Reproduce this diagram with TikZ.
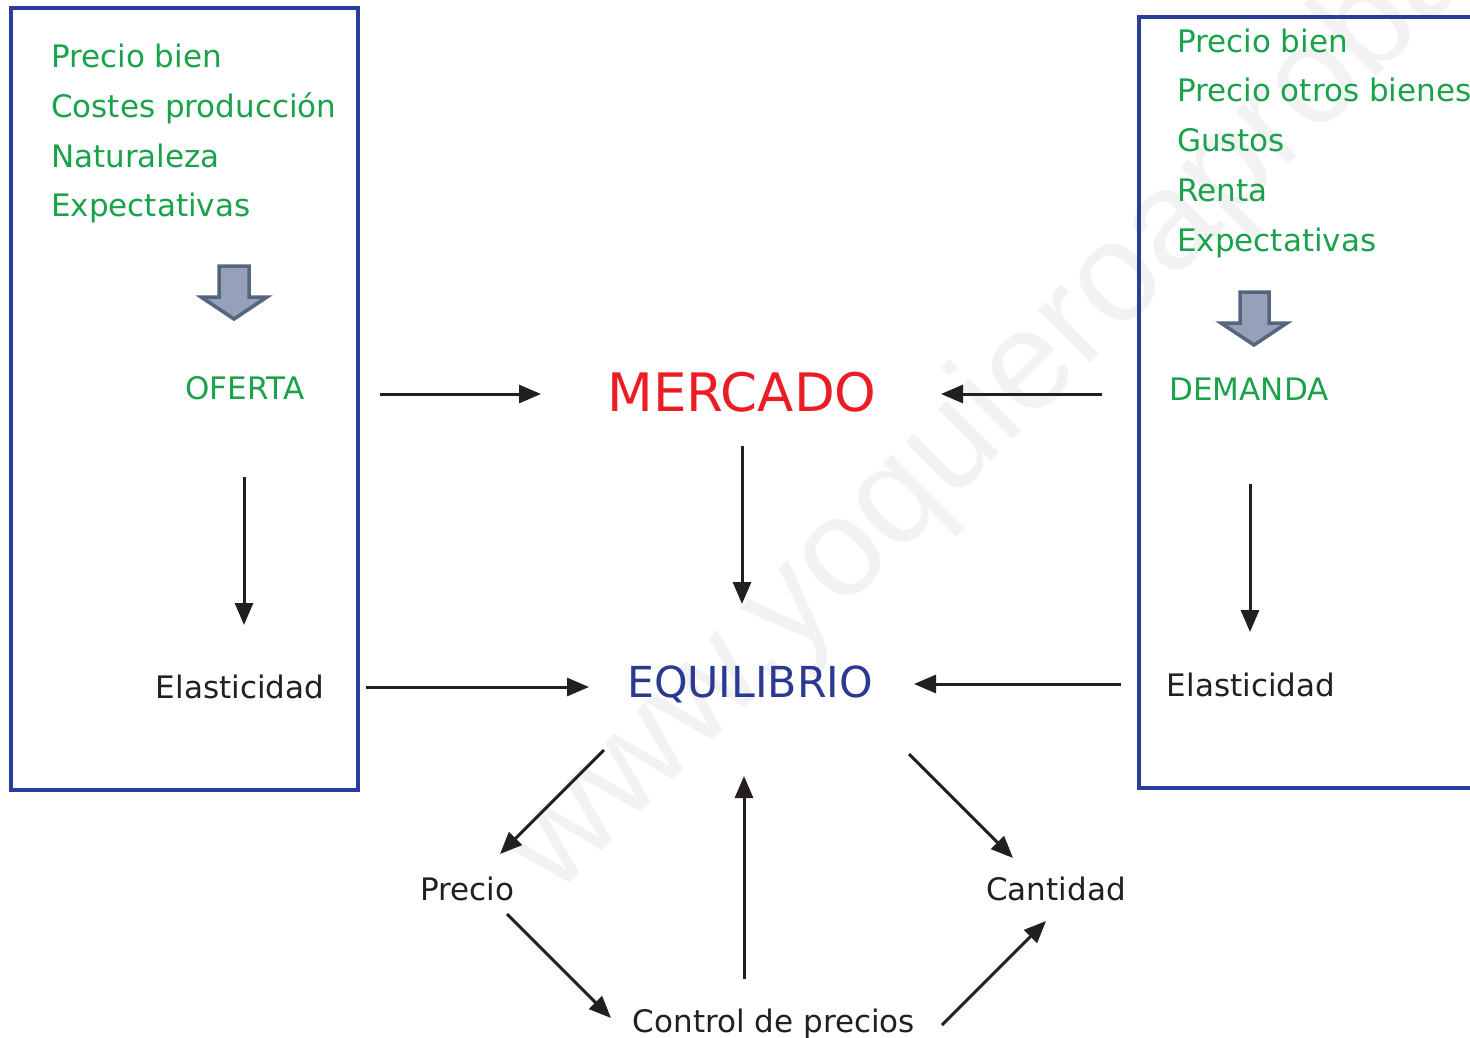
\documentclass[tikz,border=0pt]{standalone}
\usepackage{fontspec}
\setmainfont{DejaVu Sans}
\newfontfamily\wmfont{Liberation Sans}
\usetikzlibrary{arrows.meta}
\definecolor{boxblue}{RGB}{40,62,152}
\definecolor{txtgreen}{RGB}{26,162,74}
\definecolor{mred}{RGB}{236,28,36}
\definecolor{eblue}{RGB}{43,57,146}
\definecolor{ink}{RGB}{35,31,32}
\definecolor{hfill}{RGB}{150,161,185}
\definecolor{hdraw}{RGB}{86,101,126}
\tikzset{
  txt/.style={inner sep=0pt, font=\fontsize{31}{36}\selectfont, text=ink},
  gtxt/.style={txt, text=txtgreen, anchor=base west},
  conn/.style={draw=ink, line width=3pt, -{Triangle[length=22pt,width=18pt]}},
  frame/.style={draw=boxblue, line width=4pt},
  hollow/.style={fill=hfill, draw=hdraw, line width=3.5pt, line join=miter}
}
\begin{document}
\begin{tikzpicture}[x=1pt,y=-1pt]
\useasboundingbox (0,0) rectangle (1470,1037);
% watermark
\node[inner sep=0pt, anchor=base west, rotate=45, text=black!5, font=\wmfont\fontsize{140}{140}\selectfont] (wm) at (555,898) {www.yoquieroaprobar.es};
% frames
\draw[frame] (11,8) rectangle (358,790);
\draw[frame] (1472,17) -- (1139,17) -- (1139,788) -- (1472,788);
% left list
\node[gtxt] (l1) at (51,67) {Precio bien};
\node[gtxt] (l2) at (51,117) {Costes producción};
\node[gtxt] (l3) at (51,167) {Naturaleza};
\node[gtxt] (l4) at (51,216) {Expectativas};
% right list
\node[gtxt] (r1) at (1177,52) {Precio bien};
\node[gtxt] (r2) at (1177,101) {Precio otros bienes};
\node[gtxt] (r3) at (1177,151) {Gustos};
\node[gtxt] (r4) at (1177,201) {Renta};
\node[gtxt] (r5) at (1177,251) {Expectativas};
% hollow arrows
\draw[hollow] (219,266) -- (249,266) -- (249,297) -- (267,297) -- (234,319) -- (201,297) -- (219,297) -- cycle;
\draw[hollow] (1240,292) -- (1269,292) -- (1269,323) -- (1287,323) -- (1254,345) -- (1221,323) -- (1240,323) -- cycle;
% main nodes
\node[txt, text=txtgreen, anchor=base] (oferta) at (245,399) {OFERTA};
\node[txt, text=txtgreen, anchor=base] (demanda) at (1249,400) {DEMANDA};
\node[txt, text=mred, anchor=base, font=\fontsize{53}{60}\selectfont] (mercado) at (742,411) {MERCADO};
\node[txt, text=eblue, anchor=base, font=\fontsize{42.7}{50}\selectfont] (equil) at (750,697) {EQUILIBRIO};
\node[txt, anchor=base] (elasl) at (240,698) {Elasticidad};
\node[txt, anchor=base] (elasr) at (1251,696) {Elasticidad};
\node[txt, anchor=base] (precio) at (467,900) {Precio};
\node[txt, anchor=base] (cantidad) at (1056,900) {Cantidad};
\node[txt, anchor=base] (control) at (774,1032) {Control de precios};
% connector end points
\coordinate (a1s) at (380,394); \coordinate (a1e) at (541,394);
\coordinate (a2s) at (1102,394); \coordinate (a2e) at (941,394);
\coordinate (a3s) at (742,446); \coordinate (a3e) at (742,604);
\coordinate (a4s) at (244,477); \coordinate (a4e) at (244,625);
\coordinate (a5s) at (1250,484); \coordinate (a5e) at (1250,632);
\coordinate (a6s) at (366,687); \coordinate (a6e) at (589,687);
\coordinate (a7s) at (1121,684); \coordinate (a7e) at (914,684);
\coordinate (a8s) at (604,750); \coordinate (a8e) at (500,854);
\coordinate (a9s) at (909,754); \coordinate (a9e) at (1013,858);
\coordinate (a10s) at (507,914); \coordinate (a10e) at (611,1018);
\coordinate (a11s) at (942,1025); \coordinate (a11e) at (1046,921);
\coordinate (a12s) at (744,979); \coordinate (a12e) at (744,776);
\draw[conn] (a1s) -- (a1e);
\draw[conn] (a2s) -- (a2e);
\draw[conn] (a3s) -- (a3e);
\draw[conn] (a4s) -- (a4e);
\draw[conn] (a5s) -- (a5e);
\draw[conn] (a6s) -- (a6e);
\draw[conn] (a7s) -- (a7e);
\draw[conn] (a8s) -- (a8e);
\draw[conn] (a9s) -- (a9e);
\draw[conn] (a10s) -- (a10e);
\draw[conn] (a11s) -- (a11e);
\draw[conn] (a12s) -- (a12e);
\end{tikzpicture}
\end{document}
